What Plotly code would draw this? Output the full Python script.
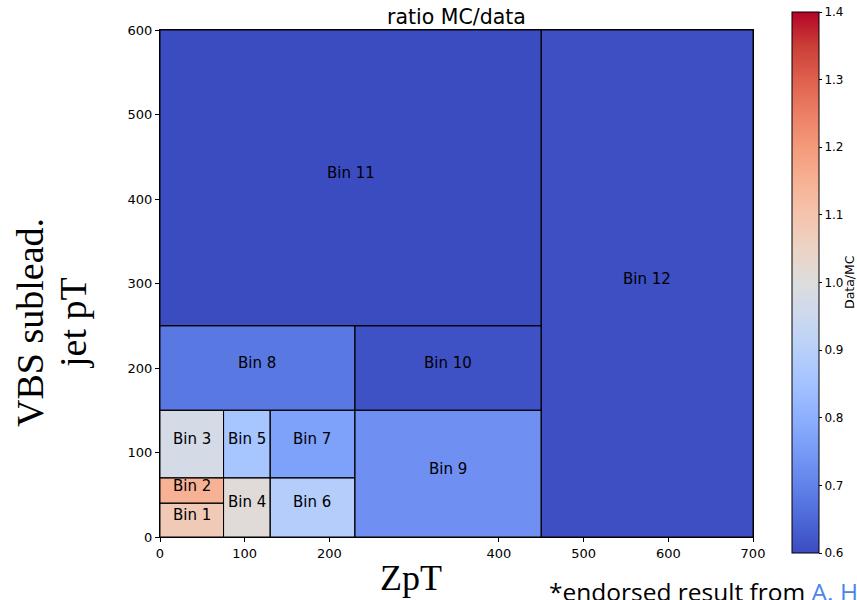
import plotly.graph_objects as go

# ---- data ----
x_edges = [0, 75, 130, 230, 450, 700]
y_edges = [0, 40, 70, 150, 250, 600]
bin_names = ["Bin 1", "Bin 2", "Bin 3", "Bin 4", "Bin 5", "Bin 6",
             "Bin 7", "Bin 8", "Bin 9", "Bin 10", "Bin 11", "Bin 12"]
bin_x0 = [0, 0, 0, 75, 75, 130, 130, 0, 230, 230, 0, 450]
bin_x1 = [75, 75, 75, 130, 130, 230, 230, 230, 450, 450, 450, 700]
bin_y0 = [0, 40, 70, 0, 70, 0, 70, 150, 0, 150, 250, 0]
bin_y1 = [40, 70, 150, 70, 150, 70, 150, 250, 150, 250, 600, 600]
bin_ratio = [1.08, 1.15, 0.975, 1.01, 0.86, 0.89, 0.765, 0.68, 0.73, 0.61, 0.60, 0.605]
x_ticks = [0, 100, 200, 400, 500, 600, 700]
y_ticks = [0, 100, 200, 300, 400, 500, 600]
cbar_ticks = [0.6, 0.7, 0.8, 0.9, 1.0, 1.1, 1.2, 1.3, 1.4]

coolwarm = [
    (0.0, (59, 76, 192)), (0.0625, (77, 104, 215)), (0.125, (98, 130, 234)),
    (0.1875, (119, 154, 247)), (0.25, (141, 176, 254)), (0.3125, (163, 194, 255)),
    (0.375, (184, 208, 249)), (0.4375, (204, 217, 238)), (0.5, (221, 221, 221)),
    (0.5625, (236, 211, 197)), (0.625, (245, 196, 173)), (0.6875, (247, 177, 148)),
    (0.75, (244, 154, 123)), (0.8125, (236, 127, 99)), (0.875, (222, 96, 77)),
    (0.9375, (203, 62, 56)), (1.0, (180, 4, 38)),
]
colorscale = [[s, "rgb(%d,%d,%d)" % c] for s, c in coolwarm]

# build z grid from bins
z = []
for j in range(len(y_edges) - 1):
    yc = (y_edges[j] + y_edges[j + 1]) / 2
    row = []
    for i in range(len(x_edges) - 1):
        xc = (x_edges[i] + x_edges[i + 1]) / 2
        val = None
        for k in range(len(bin_names)):
            if bin_x0[k] <= xc < bin_x1[k] and bin_y0[k] <= yc < bin_y1[k]:
                val = bin_ratio[k]
        row.append(val)
    z.append(row)

font_dv = "DejaVu Sans"
W, H = 857, 600
L, R, T, B = 160, 104, 30, 63
PW, PH = W - L - R, H - T - B


def px(xp):
    return (xp - L) / PW


def py(yp):
    return (H - B - yp) / PH


fig = go.Figure()
fig.add_trace(go.Heatmap(
    x=x_edges, y=y_edges, z=z, zmin=0.6, zmax=1.4,
    colorscale=colorscale, hoverinfo="skip",
    colorbar=dict(
        thickness=27, len=541, lenmode="pixels",
        x=px(792), xanchor="left", xref="paper", xpad=0, ypad=0,
        y=py(282.5), yanchor="middle",
        tickvals=cbar_ticks, ticktext=["%.1f" % t for t in cbar_ticks],
        ticks="outside", ticklen=3, tickcolor="black",
        tickfont=dict(family=font_dv, size=12, color="black"),
        outlinecolor="black", outlinewidth=1,
    ),
))

for k in range(len(bin_names)):
    fig.add_shape(type="rect", xref="x", yref="y",
                  x0=bin_x0[k], x1=bin_x1[k], y0=bin_y0[k], y1=bin_y1[k],
                  line=dict(color="black", width=1), fillcolor="rgba(0,0,0,0)")
    fig.add_annotation(x=(bin_x0[k] + bin_x1[k]) / 2, y=(bin_y0[k] + bin_y1[k]) / 2,
                       xref="x", yref="y", text=bin_names[k], showarrow=False,
                       yshift=5,
                       font=dict(family=font_dv, size=15, color="black"))

# titles
fig.add_annotation(xref="paper", yref="paper", x=0.5, y=py(17),
                   yanchor="middle", text="ratio MC/data", showarrow=False,
                   font=dict(family=font_dv, size=20.5, color="black"))
fig.add_annotation(xref="paper", yref="paper", x=px(849), y=py(282),
                   xanchor="center", yanchor="middle", textangle=-90,
                   text="Data/MC", showarrow=False,
                   font=dict(family=font_dv, size=12.5, color="black"))
fig.add_annotation(xref="paper", yref="paper", x=px(411), y=py(578),
                   xanchor="center", yanchor="middle", text="ZpT", showarrow=False,
                   font=dict(family="Liberation Serif", size=36, color="black"))
fig.add_annotation(xref="paper", yref="paper", x=px(30), y=py(323),
                   xanchor="center", yanchor="middle", textangle=-90,
                   text="VBS sublead.", showarrow=False,
                   font=dict(family="Liberation Serif", size=38, color="black"))
fig.add_annotation(xref="paper", yref="paper", x=px(73), y=py(323),
                   xanchor="center", yanchor="middle", textangle=-90,
                   text="jet pT", showarrow=False,
                   font=dict(family="Liberation Serif", size=38, color="black"))
fig.add_annotation(xref="paper", yref="paper", x=px(547), y=py(573),
                   xanchor="left", yanchor="top", align="left",
                   text="*endorsed result from <span style='color:#4a86e8'>A. H</span>",
                   showarrow=False,
                   font=dict(family="Open Sans", size=24.5, color="black"))

axis_common = dict(showline=True, linecolor="black", linewidth=1, mirror=True,
                   ticks="outside", ticklen=4, tickcolor="black", showgrid=False,
                   zeroline=False, tickfont=dict(family=font_dv, size=13, color="black"))
fig.update_xaxes(range=[0, 700], tickvals=x_ticks, **axis_common)
fig.update_yaxes(range=[0, 600], tickvals=y_ticks, **axis_common)

fig.update_layout(
    width=W, height=H,
    margin=dict(l=L, r=R, t=T, b=B, autoexpand=False),
    paper_bgcolor="white", plot_bgcolor="white",
    showlegend=False,
)

fig.write_html("out.html")
